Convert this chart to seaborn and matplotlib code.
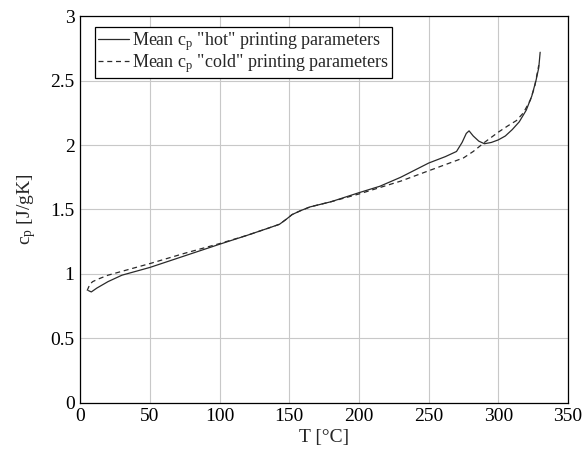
import matplotlib
matplotlib.use("Agg")
import matplotlib.pyplot as plt
import seaborn as sns
import pandas as pd
from matplotlib.ticker import FuncFormatter

# ---- data ----
hot_T = [6, 8, 12, 20, 30, 50, 75, 100, 120, 135, 143, 148, 152, 158, 165, 180,
         200, 215, 230, 250, 262, 270, 274, 277, 279, 282, 286, 290, 295, 300,
         305, 310, 315, 320, 324, 327, 329, 330]
hot_cp = [0.87, 0.86, 0.89, 0.94, 0.99, 1.05, 1.14, 1.23, 1.30, 1.355, 1.385, 1.425,
          1.46, 1.49, 1.52, 1.56, 1.63, 1.68, 1.75, 1.86, 1.91, 1.95, 2.02, 2.09,
          2.11, 2.07, 2.03, 2.01, 2.02, 2.04, 2.07, 2.12, 2.18, 2.27, 2.38, 2.50,
          2.60, 2.72]

cold_T = [5, 7, 9, 13, 20, 30, 50, 75, 100, 120, 135, 143, 148, 152, 158, 165, 180,
          200, 215, 230, 250, 265, 275, 282, 290, 300, 307, 313, 318, 323, 326, 329]
cold_cp = [0.87, 0.92, 0.94, 0.96, 0.99, 1.02, 1.08, 1.16, 1.235, 1.30, 1.355, 1.385,
           1.425, 1.46, 1.49, 1.52, 1.56, 1.62, 1.67, 1.72, 1.80, 1.86, 1.90, 1.95,
           2.02, 2.10, 2.15, 2.19, 2.25, 2.35, 2.45, 2.62]

x_ticks = [0, 50, 100, 150, 200, 250, 300, 350]
y_ticks = [0, 0.5, 1, 1.5, 2, 2.5, 3]

label_hot = r'Mean c$_\mathrm{p}$ "hot" printing parameters'
label_cold = r'Mean c$_\mathrm{p}$ "cold" printing parameters'

sns.set_style("white")
plt.rcParams["font.family"] = ["Liberation Serif", "DejaVu Serif"]
plt.rcParams["mathtext.fontset"] = "custom"
plt.rcParams["mathtext.rm"] = "Liberation Serif"
plt.rcParams["mathtext.it"] = "Liberation Serif:italic"

df_hot = pd.DataFrame({"T": hot_T, "cp": hot_cp})
df_cold = pd.DataFrame({"T": cold_T, "cp": cold_cp})

fig = plt.figure(figsize=(5.85, 4.49), dpi=100)
ax = fig.add_axes([0.137, 0.103, 0.834, 0.861])

sns.lineplot(data=df_hot, x="T", y="cp", ax=ax, color="#2a2a2a", linewidth=0.9,
             label=label_hot, sort=False)
sns.lineplot(data=df_cold, x="T", y="cp", ax=ax, color="#2a2a2a", linewidth=0.9,
             linestyle=(0, (4, 3)), label=label_cold, sort=False)

ax.set_xlim(0, 350)
ax.set_ylim(0, 3)
ax.set_xticks(x_ticks)
ax.set_yticks(y_ticks)
ax.yaxis.set_major_formatter(FuncFormatter(lambda v, p: f"{v:g}"))
ax.grid(True, color="#c8c8c8", linewidth=0.8)
ax.set_axisbelow(True)
for s in ax.spines.values():
    s.set_color("black")
    s.set_linewidth(0.9)
ax.tick_params(direction="in", length=3, width=0.7, labelsize=14, colors="black",
               pad=4)
ax.set_xlabel("T [°C]", fontsize=14, labelpad=3)
ax.set_ylabel(r"c$_\mathrm{p}$ [J/gK]", fontsize=14, labelpad=9)

leg = ax.legend(loc="upper left", bbox_to_anchor=(0.031, 0.972), borderaxespad=0,
                fontsize=13, frameon=True, fancybox=False,
                edgecolor="black", framealpha=1,
                handlelength=1.7, handletextpad=0.2, borderpad=0.15,
                labelspacing=0.0)
leg.get_frame().set_linewidth(0.9)

fig.savefig("out.png", dpi=100)
